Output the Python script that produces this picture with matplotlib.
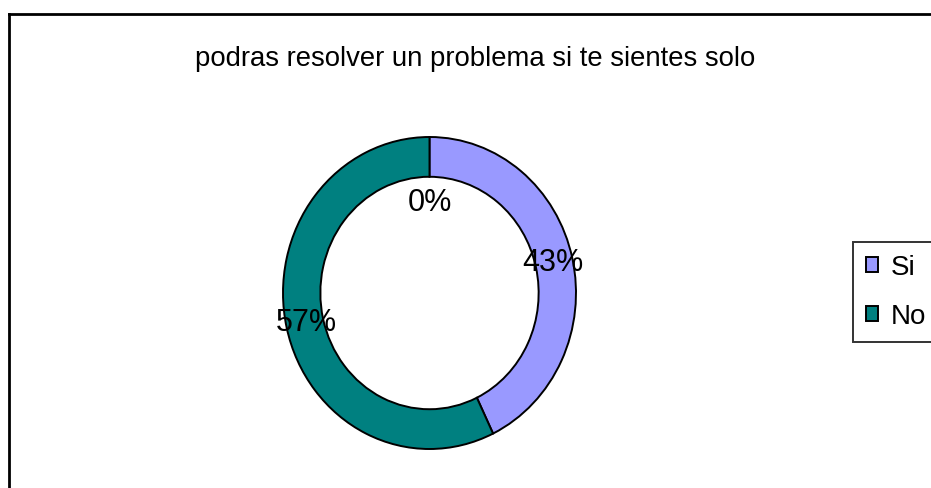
import matplotlib
matplotlib.use("Agg")
import matplotlib.pyplot as plt
from matplotlib.lines import Line2D
import numpy as np

plt.rcParams['font.family'] = ['Liberation Sans', 'DejaVu Sans']

# Data
title = "podras resolver un problema si te sientes solo"
categories = ["", "Si", "No"]
values = [0, 3, 4]
colors = ["#FFFFFF", "#9999FF", "#008080"]

W, H = 931, 488
fig = plt.figure(figsize=(W / 100, H / 100), dpi=100)
fig.patch.set_facecolor("white")

# Outer chart border (only left and top visible)
fig.add_artist(Line2D([9 / W, 9 / W], [1 - 14 / H, -0.05], transform=fig.transFigure,
                      color="black", lw=2.0))
fig.add_artist(Line2D([9 / W, 1.05], [1 - 14 / H, 1 - 14 / H], transform=fig.transFigure,
                      color="black", lw=2.0))

# Donut axes (slightly elliptical as in the reference)
cx, cy, rx, ry = 429.5, 293.0, 146.5, 156.0
ax = fig.add_axes([(cx - rx) / W, 1 - (cy + ry) / H, 2 * rx / W, 2 * ry / H])
wedges, _ = ax.pie(values, colors=colors, startangle=90, counterclock=False,
                   radius=1.0, wedgeprops=dict(width=0.255, edgecolor="black", linewidth=1.4))
ax.set_aspect("auto")
ax.set_xlim(-1, 1)
ax.set_ylim(-1, 1)
ax.axis("off")

# Percentage labels
total = float(sum(values))
start = 90.0
for v, w in zip(values, wedges):
    frac = v / total
    mid = start - frac * 360 / 2
    start -= frac * 360
    r = 0.865 if v > 0 else 0.58
    x = r * np.cos(np.radians(mid))
    y = r * np.sin(np.radians(mid))
    ax.text(x, y, f"{round(frac * 100):.0f}%", ha="center", va="center", fontsize=22,
            color="black")

# Title
fig.text(475.5 / W, 1 - 66 / H, title, ha="center", va="baseline", fontsize=19.8,
         color="black")

# Legend (only named categories)
handles = [w for w, c in zip(wedges, categories) if c]
labels = [c for c in categories if c]
leg = fig.legend(handles, labels, loc="upper left",
                 bbox_to_anchor=(853 / W, 1 - 242 / H), fontsize=20,
                 frameon=True, fancybox=False, shadow=False,
                 handlelength=0.45, handleheight=0.45, handletextpad=0.45,
                 labelspacing=0.84, borderpad=0.45, borderaxespad=0.0)
leg.get_frame().set_edgecolor("black")
leg.get_frame().set_linewidth(1.4)

fig.savefig("out.png", dpi=100, facecolor="white")
